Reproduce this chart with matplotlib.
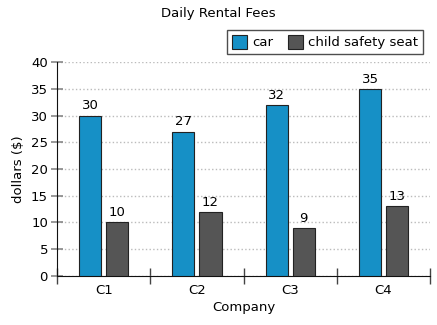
import numpy as np
import matplotlib
matplotlib.use('Agg')
import matplotlib.pyplot as plt

# 数据
companies = ['C1', 'C2', 'C3', 'C4']
car = [30, 27, 32, 35]
seat = [10, 12, 9, 13]

plt.rcParams['font.family'] = ['DejaVu Sans']

fig = plt.figure(figsize=(4.37, 3.25), dpi=100)
ax = fig.add_axes([0.1304, 0.151, 0.854, 0.658])

x = np.arange(len(companies))
w = 0.237
off = 0.145
b1 = ax.bar(x - off, car, w, color='#1690c6', edgecolor='#222222', linewidth=0.8,
            label='car', zorder=3)
b2 = ax.bar(x + off, seat, w, color='#555555', edgecolor='#222222', linewidth=0.8,
            label='child safety seat', zorder=3)

# 柱顶数值
for bars in (b1, b2):
    for r in bars:
        ax.text(r.get_x() + r.get_width() / 2, r.get_height() + 0.6,
                '%d' % r.get_height(), ha='center', va='bottom', fontsize=9.5)

ax.set_xlim(-0.5, 3.5)
ax.set_ylim(0, 40)
ax.set_yticks(range(0, 41, 5))
ax.set_xticks(x)
ax.set_xticklabels(companies, fontsize=9.5)
ax.set_xticks(np.arange(-0.5, 4, 1), minor=True)
ax.tick_params(axis='x', which='major', length=0, pad=6)
ax.tick_params(axis='x', which='minor', direction='inout', length=12, width=1, color='#444444')
ax.tick_params(axis='y', direction='inout', length=9, width=1.2, color='#888888',
               labelsize=9.5, pad=2)

ax.grid(axis='y', linestyle=':', color='#bbbbbb', linewidth=1, zorder=0)
for s in ('top', 'right'):
    ax.spines[s].set_visible(False)
ax.spines['left'].set_color('#111111')
ax.spines['bottom'].set_color('#111111')

ax.set_xlabel('Company', fontsize=9.5, labelpad=3)
ax.set_ylabel('dollars ($)', fontsize=9.5, labelpad=4)
fig.text(0.5, 0.96, 'Daily Rental Fees', ha='center', va='center', fontsize=9.5)

leg = fig.legend(handles=[b1, b2], loc='upper right', bbox_to_anchor=(0.968, 0.908),
                 ncol=2, fontsize=9.5, frameon=True, fancybox=False,
                 handlelength=1.15, handleheight=1.3, handletextpad=0.4,
                 columnspacing=1.1, borderpad=0.35, borderaxespad=0)
leg.get_frame().set_edgecolor('#222222')
leg.get_frame().set_linewidth(1)

fig.savefig('out.png', dpi=100)
